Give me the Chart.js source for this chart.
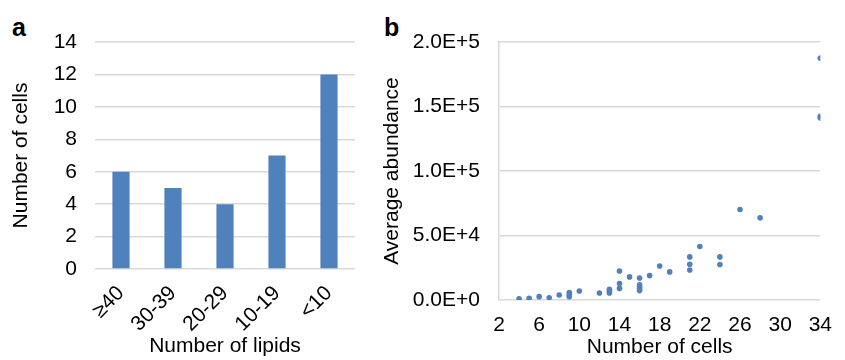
<!DOCTYPE html>
<html>
<head>
<meta charset="utf-8">
<script src="https://cdn.jsdelivr.net/npm/chart.js@4"></script>
<style>
  body { margin: 0; background: #fff; width: 845px; height: 360px; position: relative; overflow: hidden; }
  canvas { position: absolute; top: 0; }
  .panel { position: absolute; top: 15px; font: bold 25px "Liberation Sans", Arial, sans-serif; line-height: 24px; color: #000; }
</style>
</head>
<body>
<div class="panel" style="left:12px">a</div>
<div class="panel" style="left:384px">b</div>
<canvas id="barChart" width="375" height="360" style="left:0"></canvas>
<canvas id="scatterChart" width="465" height="360" style="left:380px"></canvas>
<script>
// Panel a: number of cells per lipid-count bin
const lipidBins = ["≥40", "30-39", "20-29", "10-19", "<10"];
const cellCounts = [6, 5, 4, 7, 12];

// Panel b: number of cells vs average abundance
const cellsX = [4, 5, 6, 7, 8, 9, 9, 9, 10, 12, 13, 13, 13, 14, 14, 14, 15,
  16, 16, 16, 16, 16, 17, 18, 19, 21, 21, 21, 22, 24, 24, 26, 28, 34, 34, 34];
const abundanceY = [1000, 1300, 2600, 1800, 3900, 5700, 4100, 2600, 7000, 5400,
  8300, 6700, 5400, 22500, 12700, 9000, 17900, 17100, 11700, 10100, 8500, 7300,
  18900, 26400, 21800, 33400, 27700, 23300, 41500, 33400, 27500, 70200, 63700,
  187500, 142500, 141000];

const fontFamily = '"Liberation Sans", Arial, sans-serif';
const gridColor = "#d9d9d9";
const blue = "#4f81bd";
const fs = 21;

Chart.defaults.font.family = fontFamily;
Chart.defaults.color = "#000";

new Chart(document.getElementById("barChart"), {
  type: "bar",
  data: {
    labels: lipidBins,
    datasets: [{
      data: cellCounts,
      backgroundColor: blue,
      categoryPercentage: 1,
      barPercentage: 0.33
    }]
  },
  options: {
    responsive: false,
    animation: false,
    layout: { padding: { top: 42, right: 20, left: 0, bottom: 0 } },
    plugins: { legend: { display: false }, tooltip: { enabled: false } },
    scales: {
      x: {
        grid: { display: false, drawTicks: false },
        border: { display: false },
        ticks: { font: { size: fs }, minRotation: 45, maxRotation: 45, padding: 12 },
        title: { display: true, text: "Number of lipids", font: { size: fs }, padding: { top: 0, bottom: 1 } },
        afterFit(scale) { scale.height = 91; }
      },
      y: {
        min: 0,
        max: 14,
        ticks: { stepSize: 2, font: { size: fs }, padding: 18 },
        grid: { color: gridColor, lineWidth: 1.5, drawTicks: false },
        border: { display: false },
        title: { display: true, text: "Number of cells", font: { size: fs }, padding: { top: 9, bottom: 0 } },
        afterFit(scale) { scale.width = 95; }
      }
    }
  }
});

new Chart(document.getElementById("scatterChart"), {
  type: "scatter",
  data: {
    datasets: [{
      data: cellsX.map((x, i) => ({ x: x, y: abundanceY[i] })),
      backgroundColor: blue,
      borderColor: blue,
      pointRadius: 2.8,
      borderWidth: 0
    }]
  },
  options: {
    responsive: false,
    animation: false,
    layout: { padding: { top: 42, right: 15, left: 0, bottom: 0 } },
    plugins: { legend: { display: false }, tooltip: { enabled: false } },
    scales: {
      x: {
        type: "linear",
        min: 2,
        max: 34,
        ticks: { stepSize: 4, font: { size: fs }, padding: 13 },
        grid: { display: false, drawTicks: false },
        border: { display: false },
        title: { display: true, text: "Number of cells", font: { size: fs }, padding: { top: 0, bottom: 0 } },
        afterFit(scale) { scale.height = 60; }
      },
      y: {
        min: 0,
        max: 200000,
        ticks: {
          stepSize: 50000,
          font: { size: fs },
          padding: 19,
          callback: v => v.toExponential(1).toUpperCase()
        },
        grid: { color: gridColor, lineWidth: 1.5, drawTicks: false },
        border: { display: true, color: gridColor, width: 1.5 },
        title: { display: true, text: "Average abundance", font: { size: fs }, padding: { top: 0, bottom: 0 } },
        afterFit(scale) { scale.width = 119; }
      }
    }
  }
});
</script>
</body>
</html>
